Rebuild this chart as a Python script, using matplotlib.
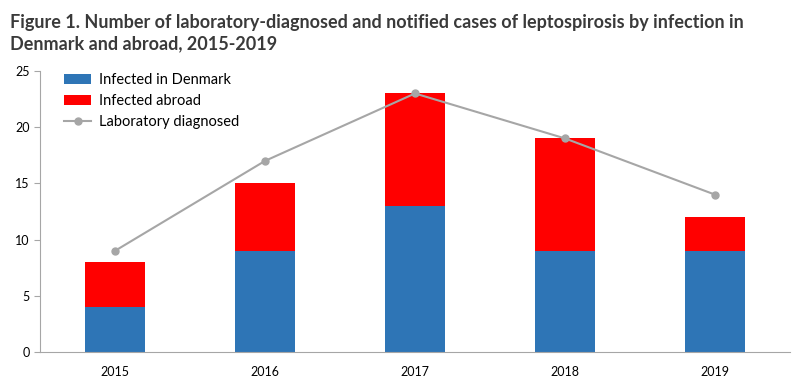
import matplotlib.pyplot as plt
import numpy as np

years = ['2015', '2016', '2017', '2018', '2019']
denmark = [4, 9, 13, 9, 9]
abroad = [4, 6, 10, 10, 3]
lab_diagnosed = [9, 17, 23, 19, 14]

plt.rcParams['font.family'] = ['Lato', 'DejaVu Sans']

fig = plt.figure(figsize=(8, 3.9), dpi=100)
ax = fig.add_axes([0.05, 0.0974, 0.9375, 0.7206])

x = np.arange(len(years))
b1 = ax.bar(x, denmark, width=0.4, color='#2E75B6', label='Infected in Denmark')
b2 = ax.bar(x, abroad, width=0.4, bottom=denmark, color='#FF0000', label='Infected abroad')
l1, = ax.plot(x, lab_diagnosed, color='#A6A6A6', linewidth=1.5, marker='o', markersize=5,
              label='Laboratory diagnosed')

ax.set_xlim(-0.5, 4.5)
ax.set_ylim(0, 25)
ax.set_yticks([0, 5, 10, 15, 20, 25])
ax.set_xticks(x)
ax.set_xticklabels(years)
ax.tick_params(axis='x', length=0, pad=10, labelsize=9)
ax.tick_params(axis='y', length=4, color='#A6A6A6', labelsize=9)
for s in ['top', 'right']:
    ax.spines[s].set_visible(False)
ax.spines['left'].set_color('#A6A6A6')
ax.spines['bottom'].set_color('#A6A6A6')

ax.legend(handles=[b1, b2, l1], loc='upper left', bbox_to_anchor=(0.015, 1.04), frameon=False,
          fontsize=10.5, handlelength=1.8, handletextpad=0.6, labelspacing=0.5)

fig.text(0.012, 0.965, 'Figure 1. Number of laboratory-diagnosed and notified cases of leptospirosis by infection in\nDenmark and abroad, 2015-2019',
         fontsize=13, fontweight='bold', color='#3A3A3A', va='top', linespacing=1.3)

fig.savefig('out.png', dpi=100)
